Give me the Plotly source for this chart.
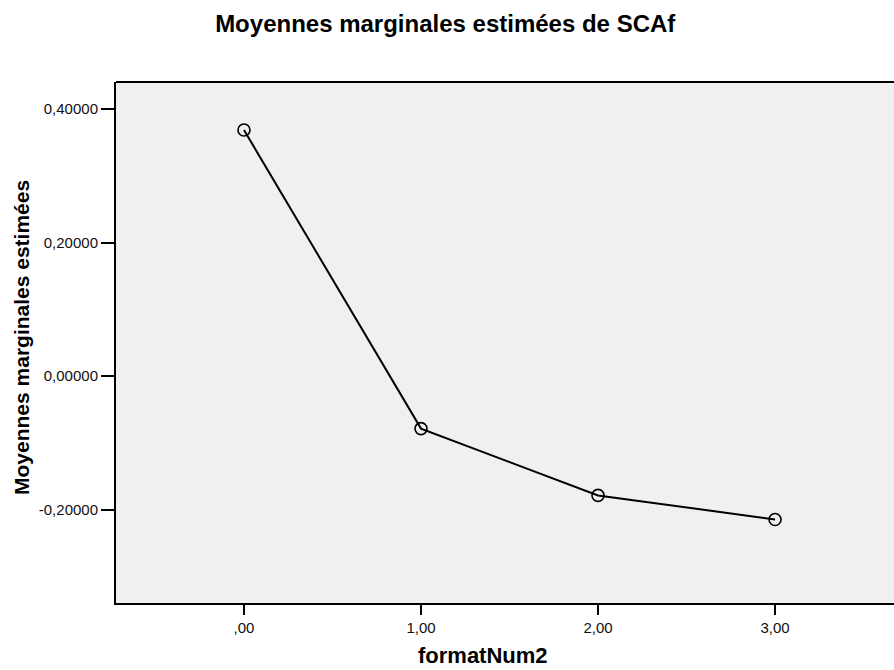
import plotly.graph_objects as go

# Estimated marginal means of SCAf by formatNum2
format_levels = [0, 1, 2, 3]
marginal_means = [0.3686, -0.0785, -0.1785, -0.2145]

x_tick_vals = [0, 1, 2, 3]
x_tick_text = [",00", "1,00", "2,00", "3,00"]
y_tick_vals = [0.4, 0.2, 0.0, -0.2]
y_tick_text = ["0,40000", "0,20000", "0,00000", "-0,20000"]

font_family = "Liberation Sans, Arial, sans-serif"

fig = go.Figure()
fig.add_trace(go.Scatter(
    x=format_levels,
    y=marginal_means,
    mode="lines+markers",
    line=dict(color="black", width=2),
    marker=dict(symbol="circle-open", size=12, color="black", line=dict(width=1.6)),
    showlegend=False,
    hoverinfo="x+y",
))

fig.update_layout(
    width=894,
    height=670,
    margin=dict(l=116, r=0, t=82, b=67),
    paper_bgcolor="white",
    plot_bgcolor="#f0f0f0",
    font=dict(family=font_family, color="#111111", size=15),
    title=dict(
        text="<b>Moyennes marginales estimées de SCAf</b>",
        x=0.498, xanchor="center",
        y=1 - 24 / 670, yanchor="middle",
        font=dict(size=24, color="black", family=font_family),
    ),
    xaxis=dict(
        range=[-0.723, 3.672],
        tickvals=x_tick_vals,
        ticktext=x_tick_text,
        ticks="outside",
        ticklen=10,
        tickwidth=2,
        tickcolor="black",
        showline=True,
        linecolor="black",
        linewidth=2,
        showgrid=False,
        zeroline=False,
        tickfont=dict(size=15, color="#111111"),
    ),
    yaxis=dict(
        range=[-0.3396, 0.4405],
        tickvals=y_tick_vals,
        ticktext=y_tick_text,
        ticks="outside",
        ticklen=13,
        tickwidth=2,
        tickcolor="black",
        showline=True,
        linecolor="black",
        linewidth=2,
        showgrid=False,
        zeroline=False,
        tickfont=dict(size=15, color="#111111"),
        ticklabelstandoff=0,
    ),
    shapes=[
        dict(type="line", xref="paper", yref="paper", x0=0, x1=1, y0=1, y1=1,
             line=dict(color="black", width=2)),
    ],
    annotations=[
        dict(text="<b>formatNum2</b>", xref="paper", yref="paper",
             x=(483 - 116) / 778, y=-(655 - 603) / 521,
             xanchor="center", yanchor="middle", showarrow=False,
             font=dict(size=22, color="black", family=font_family)),
        dict(text="<b>Moyennes marginales estimées</b>", xref="paper", yref="paper",
             x=-(116 - 21) / 778, y=(603 - 338) / 521, textangle=-90,
             xanchor="center", yanchor="middle", showarrow=False,
             font=dict(size=21, color="black", family=font_family)),
    ],
)

fig.write_html("out.html")
